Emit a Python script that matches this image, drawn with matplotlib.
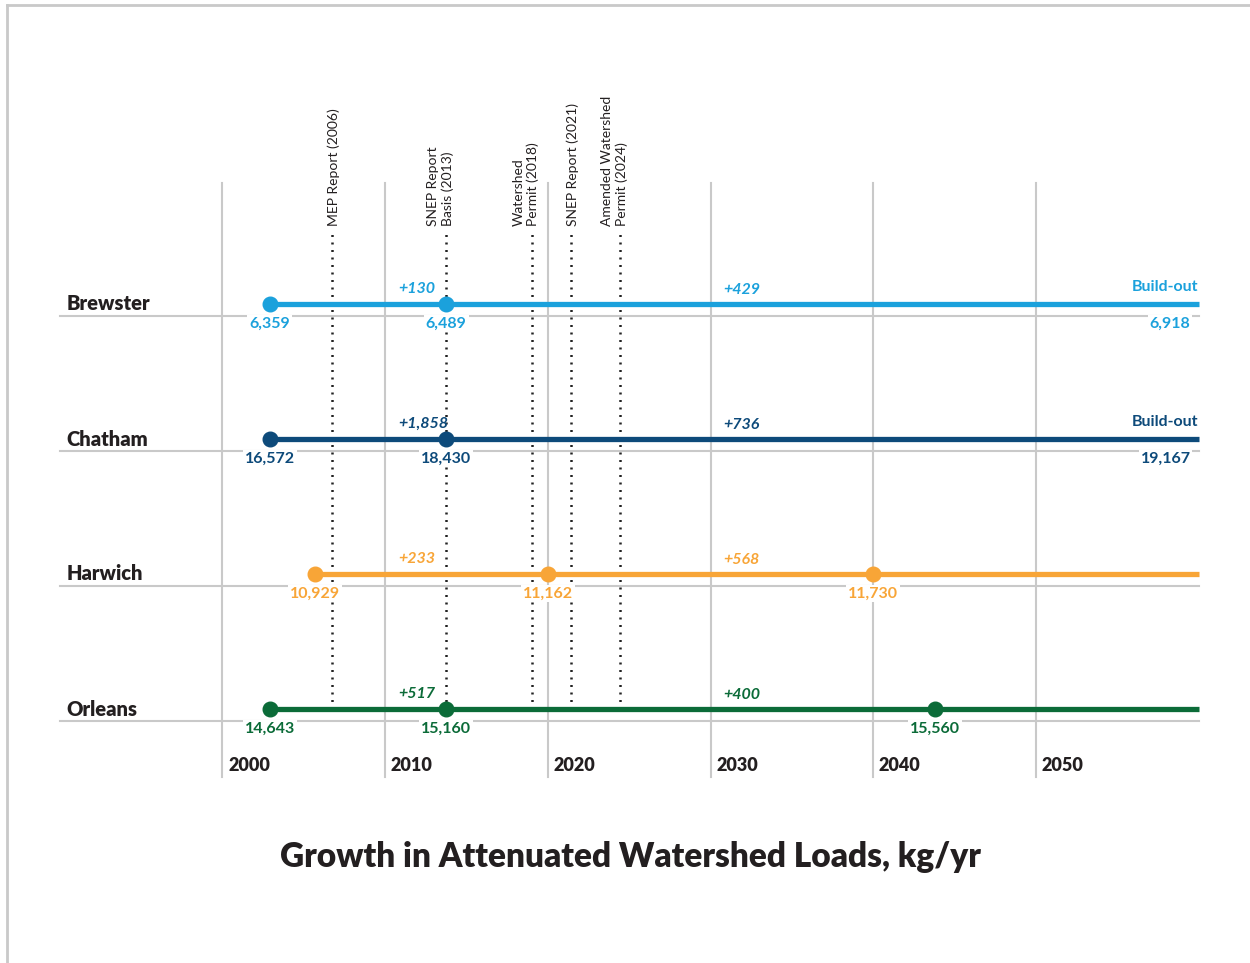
import numpy as np
import matplotlib.pyplot as plt
from matplotlib.lines import Line2D

# --- данные ---
towns = ['Brewster', 'Chatham', 'Harwich', 'Orleans']
town_colors = ['#1ba1dc', '#0d4a7a', '#f8a537', '#0b6b38']

brewster_years = [2002.9, 2013.75]
brewster_values = ['6,359', '6,489']
chatham_years = [2002.9, 2013.75]
chatham_values = ['16,572', '18,430']
harwich_years = [2005.7, 2020.0, 2040.0]
harwich_values = ['10,929', '11,162', '11,730']
orleans_years = [2002.9, 2013.75, 2043.8]
orleans_values = ['14,643', '15,160', '15,560']

town_years = [brewster_years, chatham_years, harwich_years, orleans_years]
town_values = [brewster_values, chatham_values, harwich_values, orleans_values]

# приросты: первый до ~2013, второй после 2030
growth_first = ['+130', '+1,858', '+233', '+517']
growth_second = ['+429', '+736', '+568', '+400']

# build-out (только Brewster и Chatham)
buildout_values = ['6,918', '19,167', None, None]

milestone_years = [2006.75, 2013.75, 2019.0, 2021.45, 2024.45]
milestone_labels = ['MEP Report (2006)', 'SNEP Report\nBasis (2013)',
                    'Watershed\nPermit (2018)', 'SNEP Report (2021)',
                    'Amended Watershed\nPermit (2024)']

decades = [2000, 2010, 2020, 2030, 2040, 2050]
end_year = 2060
grid_start = 1990

title = 'Growth in Attenuated Watershed Loads, kg/yr'

# --- оформление ---
W, H = 1250, 963
PX_PER_YEAR = 16.27
X_2000 = 222.5
ROW_PX = 135.0
ROW0_PX = 709.0   # пиксель строки Orleans

grid_col = '#c9c9c9'
text_dark = '#231f20'
FONT = 'Lato'

fig = plt.figure(figsize=(W / 100, H / 100), dpi=100)
ax = fig.add_axes([0, 0, 1, 1])
ax.set_xlim(2000 - X_2000 / PX_PER_YEAR, 2000 + (W - X_2000) / PX_PER_YEAR)
ax.set_ylim((ROW0_PX - H) / ROW_PX, ROW0_PX / ROW_PX)
ax.axis('off')


def px_to_row(py):
    return (ROW0_PX - py) / ROW_PX


rows = [3, 2, 1, 0]

# вертикальная сетка и подписи лет
for d in decades:
    ax.plot([d, d], [px_to_row(777), px_to_row(183)], color=grid_col, lw=1.5, zorder=1)
    ax.text(d + 0.35, px_to_row(765), str(d), ha='left', va='center',
            fontsize=13, fontweight='heavy', color=text_dark, family=FONT)

# горизонтальная сетка и названия
for name, r in zip(towns, rows):
    ax.plot([grid_start, end_year], [r - 0.09, r - 0.09], color=grid_col, lw=1.5, zorder=1)
    ax.text(grid_start + 0.4, r, name, ha='left', va='center', fontsize=14.5,
            fontweight='heavy', color=text_dark, family=FONT)

# пунктирные вехи
for yr, lab in zip(milestone_years, milestone_labels):
    ax.plot([yr, yr], [0, px_to_row(232)], color='#222222', lw=1.8,
            linestyle=(0, (0.8, 2.2)), zorder=2)
    ax.annotate(lab, (yr, px_to_row(226)), xytext=(5.5, 0), textcoords='offset points',
                rotation=90, ha='right', va='bottom', multialignment='left',
                fontsize=10, color=text_dark, family=FONT, zorder=6)

box = dict(boxstyle='square,pad=0.12', fc='white', ec='none')

# линии городов
for i, r in enumerate(rows):
    c = town_colors[i]
    yrs = town_years[i]
    ax.plot([yrs[0], end_year], [r, r], color=c, lw=3.8, solid_capstyle='butt', zorder=3)
    ax.plot(yrs, [r] * len(yrs), 'o', color=c, ms=10.5, zorder=4)
    for yr, v in zip(yrs, town_values[i]):
        ax.annotate(v, (yr, r), xytext=(0, -14), textcoords='offset points',
                    ha='center', va='center', fontsize=11.5, fontweight='bold',
                    color=c, family=FONT, bbox=box, zorder=5)
    ax.annotate(growth_first[i], (2010.8, r), xytext=(0, 11), textcoords='offset points',
                ha='left', va='center', fontsize=11.5, fontweight='bold', style='italic',
                color=c, family=FONT, zorder=5)
    ax.annotate(growth_second[i], (2030.8, r), xytext=(0, 10), textcoords='offset points',
                ha='left', va='center', fontsize=11.5, fontweight='bold', style='italic',
                color=c, family=FONT, zorder=5)
    if buildout_values[i] is not None:
        ax.annotate('Build-out', (end_year, r), xytext=(0, 12.5), textcoords='offset points',
                    ha='right', va='center', fontsize=11.5, fontweight='bold',
                    color=c, family=FONT, zorder=5)
        ax.annotate(buildout_values[i], (end_year - 0.5, r), xytext=(0, -14),
                    textcoords='offset points', ha='right', va='center', fontsize=11.5,
                    fontweight='bold', color=c, family=FONT, bbox=box, zorder=5)

# заголовок
fig.text(630 / W, 1 - 857 / H, title, ha='center', va='center', fontsize=24,
         fontweight='heavy', color=text_dark, family=FONT)

# рамка сверху и слева
fig.add_artist(Line2D([7 / W, 1], [1 - 5 / H, 1 - 5 / H], color=grid_col, lw=2,
                      transform=fig.transFigure))
fig.add_artist(Line2D([7 / W, 7 / W], [0, 1 - 5 / H], color=grid_col, lw=2,
                      transform=fig.transFigure))

fig.savefig('out.png', dpi=100, facecolor='white')
